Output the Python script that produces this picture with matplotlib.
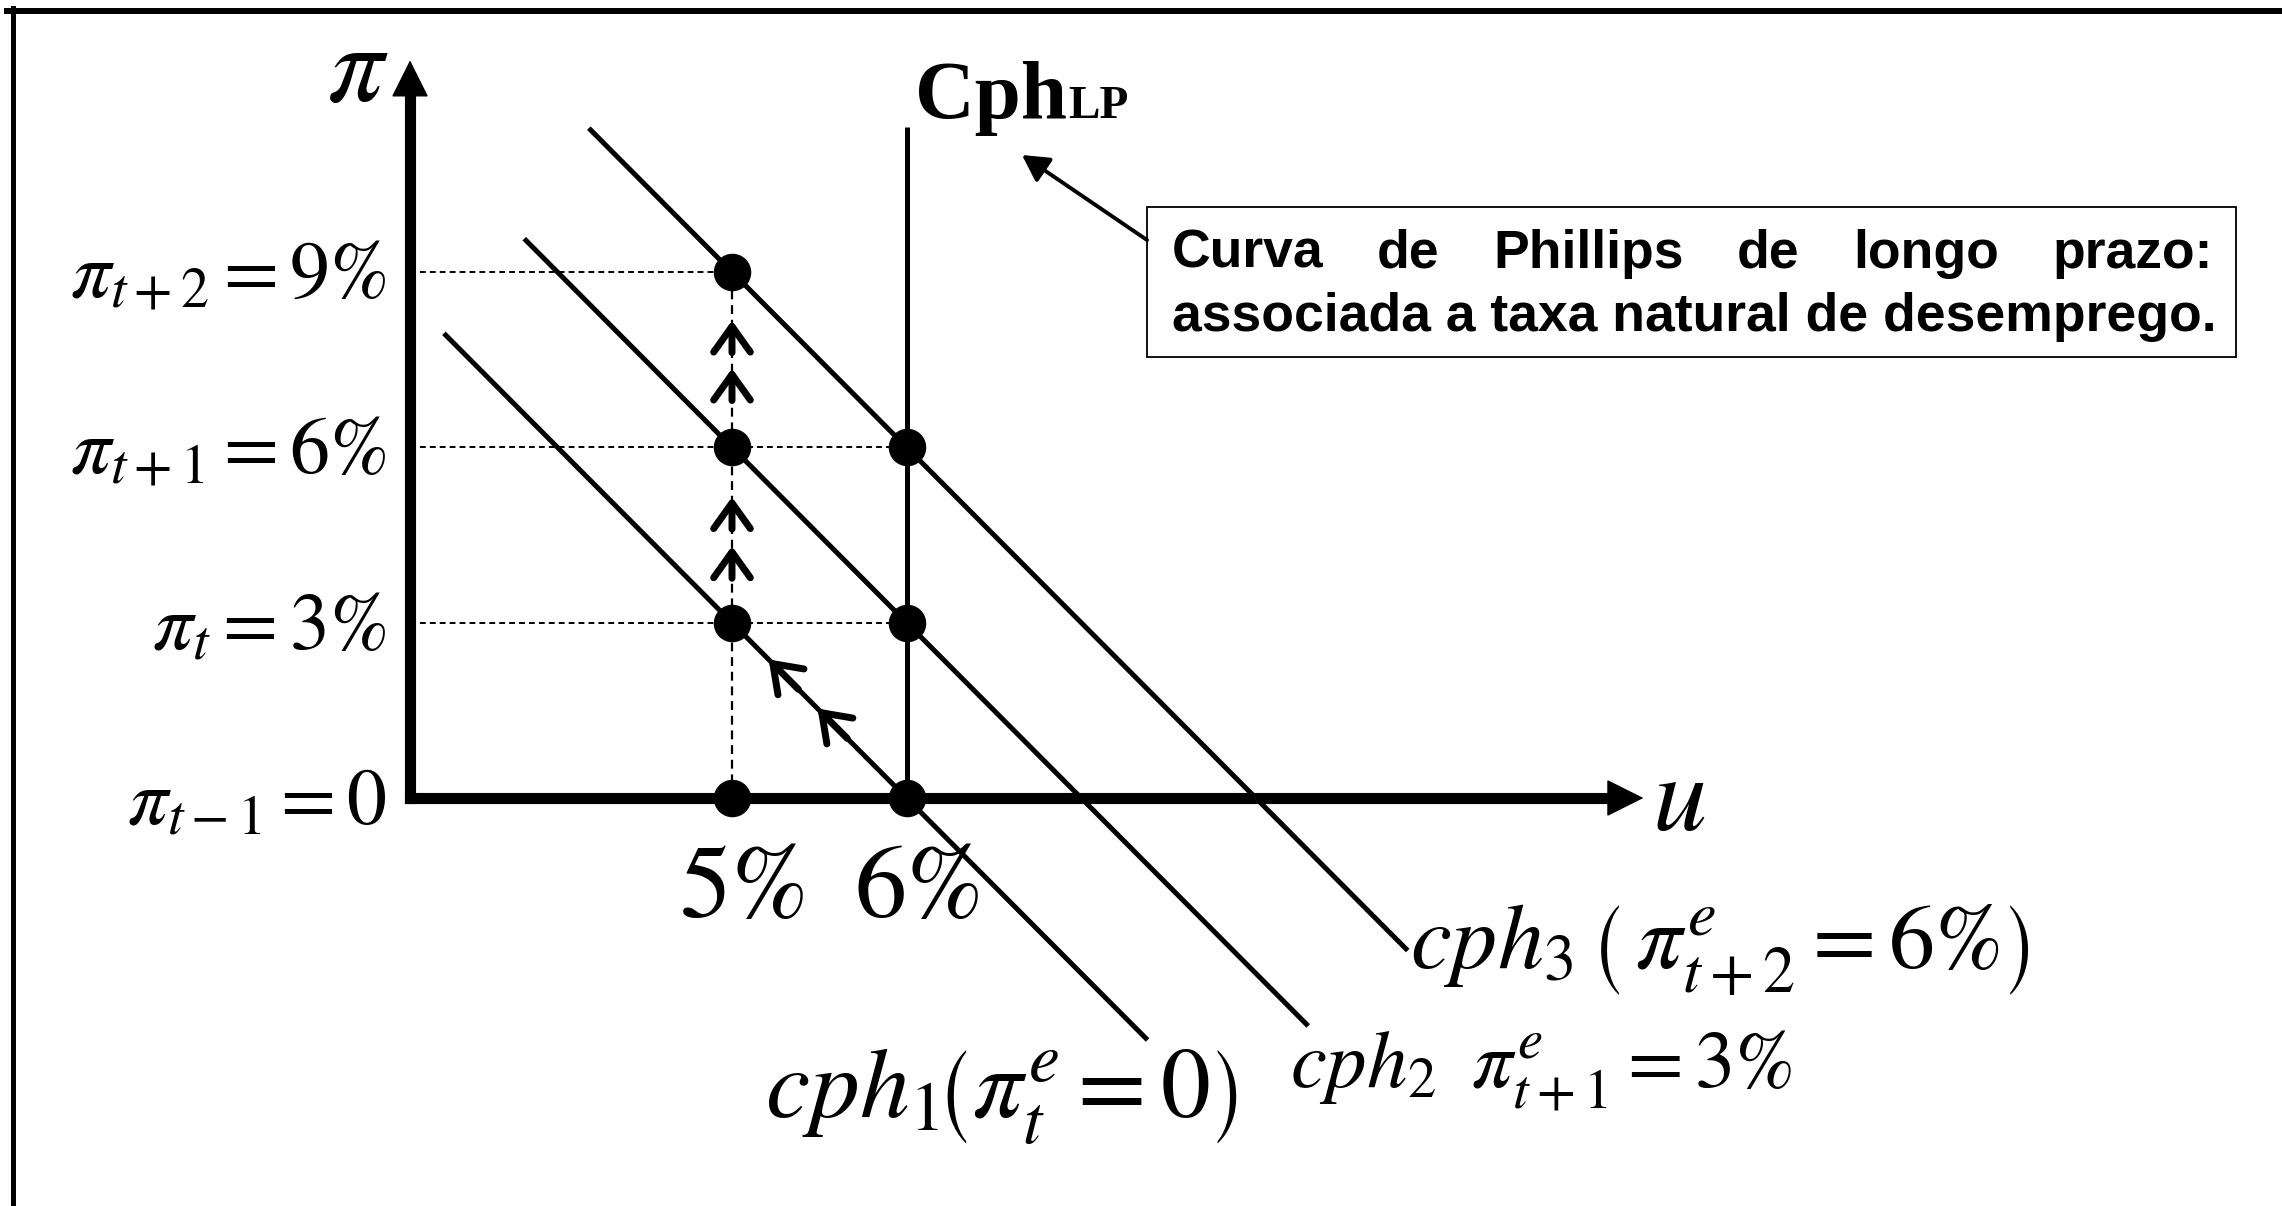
import matplotlib
matplotlib.use('Agg')
import matplotlib.pyplot as plt
from matplotlib.patches import Rectangle
from matplotlib.lines import Line2D

plt.rcParams['mathtext.fontset'] = 'stix'
plt.rcParams['font.family'] = ['STIXGeneral', 'DejaVu Serif']

# ---------------- data ----------------
u_points = [5, 6, 5, 6, 5, 6, 5]            # unemployment of the marked equilibria (%)
pi_points = [0, 0, 3, 3, 6, 6, 9]           # inflation of the marked equilibria (%)
natural_u = 6                               # natural rate of unemployment (%)
slope = -3.0                                # slope of each short-run Phillips curve
expected_pi = [0, 3, 6]                     # expected inflation of cph1, cph2, cph3
curve_u_start = [3.35, 3.81, 4.18]
curve_u_end = [7.38, 8.30, 8.87]
lp_pi_top = 11.48
pi_levels = [9, 6, 3, 0]
y_labels = [r'$\pi_{t+2} = 9\%$', r'$\pi_{t+1} = 6\%$', r'$\pi_{t} = 3\%$', r'$\pi_{t-1} = 0$']
x_label_u = [5, 6]
x_labels = ['5%', '6%']
vertical_arrow_pi = [8.17, 7.35, 5.15, 4.31]
curve1_arrow_u = [5.21, 5.49]
curve_labels = [r'$cph_1\!\left(\pi^{e}_{t} = 0\right)$',
                r'$cph_2\;\;\pi^{e}_{t+1} = 3\%$',
                r'$cph_3\,\left(\,\pi^{e}_{t+2} = 6\%\right)$']
box_line1 = ['Curva', 'de', 'Phillips', 'de', 'longo', 'prazo:']
box_line2 = 'associada a taxa natural de desemprego.'

# axis extents (diagram geometry)
u_axis = 3.156
x_tip = 10.22
y_tip = 12.62

W, H = 2282, 1206
fig = plt.figure(figsize=(W / 100, H / 100), dpi=100)
ax = fig.add_axes([0, 0, 1, 1])
ax.set_xlim(5 - 732 / 174.6, 5 + (W - 732) / 174.6)
ax.set_ylim(-(H - 798) / 58.45, 798 / 58.45)
ax.axis('off')
renderer = fig.canvas.get_renderer()


def fxy(x, y):
    return (x / W, 1 - y / H)


def fit(t, target):
    bb = t.get_window_extent(renderer)
    t.set_fontsize(t.get_fontsize() * target / bb.width)
    return t


# frame (top and left edges)
fig.add_artist(Line2D([7 / W, 1], [1 - 10.5 / H] * 2, lw=4.3, color='k', transform=fig.transFigure))
fig.add_artist(Line2D([13 / W] * 2, [1 - 8 / H, 0], lw=3.6, color='k', transform=fig.transFigure))

# axes
ax.plot([u_axis, x_tip - 0.15], [0, 0], color='k', lw=8, solid_capstyle='projecting', zorder=3)
ax.plot([u_axis, u_axis], [0, y_tip - 0.45], color='k', lw=8, solid_capstyle='projecting', zorder=3)
head = dict(arrowstyle='-|>,head_length=0.4,head_width=0.2', mutation_scale=61, lw=1,
            color='k', shrinkA=0, shrinkB=0)
ax.annotate('', xy=(x_tip, 0), xytext=(x_tip - 0.3, 0), arrowprops=head, zorder=3)
ax.annotate('', xy=(u_axis, y_tip), xytext=(u_axis, y_tip - 0.9), arrowprops=head, zorder=3)

# short-run Phillips curves
for e, u0, u1 in zip(expected_pi, curve_u_start, curve_u_end):
    ax.plot([u0, u1], [e + slope * (u0 - natural_u), e + slope * (u1 - natural_u)],
            color='k', lw=3.6, solid_capstyle='butt', zorder=2)

# long-run Phillips curve
ax.plot([natural_u, natural_u], [0, lp_pi_top], color='k', lw=3.6, solid_capstyle='butt', zorder=2)

# dashed guides
for lvl in pi_levels:
    if lvl == 0:
        continue
    u_end = max(u for u, p in zip(u_points, pi_points) if p == lvl)
    ax.plot([u_axis, u_end], [lvl, lvl], color='k', lw=1.4, dashes=(3.0, 2.1), zorder=1)
u_min = min(u_points)
ax.plot([u_min, u_min], [0, max(p for u, p in zip(u_points, pi_points) if u == u_min)],
        color='k', lw=1.6, dashes=(4, 2.6), zorder=1)

# chevrons along the vertical guide
chev = dict(arrowstyle='->,head_length=0.42,head_width=0.3', mutation_scale=44, lw=5,
            color='k', shrinkA=0, shrinkB=0, capstyle='round', joinstyle='round')
for p in vertical_arrow_pi:
    ax.annotate('', xy=(u_min, p), xytext=(u_min, p - 0.55), arrowprops=chev, zorder=4)

# chevrons along cph1
for u in curve1_arrow_u:
    f = lambda v: expected_pi[0] + slope * (v - natural_u)
    ax.annotate('', xy=(u, f(u)), xytext=(u + 0.17, f(u + 0.17)), arrowprops=chev, zorder=4)

# points
ax.plot(u_points, pi_points, 'o', color='k', ms=26, zorder=5)

# axis titles
fig.text(*fxy(358, 101), r'$\pi$', fontsize=80, ha='center', va='baseline')
fig.text(*fxy(1652, 830), r'$u$', fontsize=78, ha='left', va='baseline')

# y labels
t0 = fig.text(*fxy(94, 298), y_labels[0], fontsize=50, ha='left', va='baseline')
fit(t0, 388 - 94)
ysize = t0.get_fontsize() * 1.08
t0.remove()
for lvl, lab in zip(pi_levels, y_labels):
    ax.annotate(lab, xy=(u_axis, lvl), xytext=(-17, -19), textcoords='offset points',
                fontsize=ysize, ha='right', va='baseline')

# x labels
t0 = fig.text(*fxy(681, 917), x_labels[0], fontsize=58, ha='left', va='baseline')
fit(t0, 130)
xsize = t0.get_fontsize()
t0.remove()
for u, lab in zip(x_label_u, x_labels):
    ax.annotate(lab, xy=(u, 0), xytext=(9.4, -85.7), textcoords='offset points',
                fontsize=xsize, ha='center', va='baseline')

# Cph LP label
tc = fig.text(*fxy(915, 118), 'Cph', fontsize=60, fontweight='bold',
              family=['Liberation Serif', 'DejaVu Serif'], ha='left', va='baseline')
fit(tc, 152)
bb = tc.get_window_extent(renderer)
fig.text((bb.x1 + 1) / W, 1 - 118 / H, 'LP', fontsize=tc.get_fontsize() * 0.57, fontweight='bold',
         family=['Liberation Serif', 'DejaVu Serif'], ha='left', va='baseline')

# curve labels
for lab, (x0, x1, yb) in zip(curve_labels, [(765, 1240, 1118), (1290, 1793, 1088), (1410, 2033, 968)]):
    t = fig.text(*fxy(x0, yb), lab, fontsize=50, ha='left', va='baseline')
    fit(t, x1 - x0)

# explanatory box
fig.add_artist(Rectangle(fxy(1147, 357), 1089 / W, 150 / H, transform=fig.transFigure,
                         fill=False, lw=1.3, ec='k'))
sans = ['Liberation Sans', 'DejaVu Sans']
t2 = fig.text(*fxy(1172, 331), box_line2, fontsize=38, fontweight='bold', family=sans,
              ha='left', va='baseline')
fit(t2, 2213 - 1172)
bsize = t2.get_fontsize()
words = [fig.text(0, 1 - 268 / H, w, fontsize=bsize, fontweight='bold', family=sans,
                  ha='left', va='baseline') for w in box_line1]
widths = [w.get_window_extent(renderer).width for w in words]
gap = ((2213 - 1172) - sum(widths)) / (len(words) - 1)
x = 1172
for w, wd in zip(words, widths):
    w.set_x(x / W)
    x += wd + gap

ax.annotate('', xy=fxy(1022, 155), xytext=fxy(1147, 240), xycoords='figure fraction',
            textcoords='figure fraction',
            arrowprops=dict(arrowstyle='-|>,head_length=0.4,head_width=0.22', mutation_scale=40,
                            lw=2.8, color='k', shrinkA=0, shrinkB=0))

fig.savefig('out.png', dpi=100)
